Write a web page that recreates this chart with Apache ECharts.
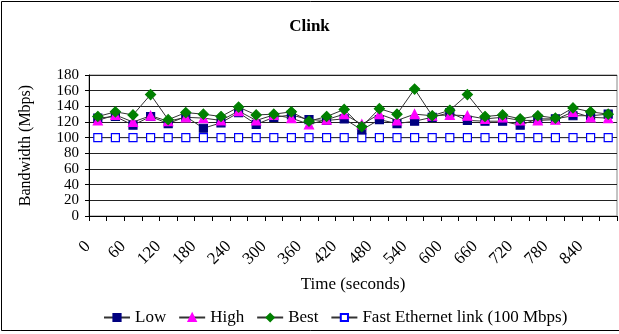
<!DOCTYPE html>
<html>
<head>
<meta charset="utf-8">
<script src="https://cdn.jsdelivr.net/npm/echarts@6/dist/echarts.min.js"></script>
<style>
  html, body { margin: 0; padding: 0; background: #fff; }
  #chart { width: 619px; height: 334px; }
</style>
</head>
<body>
<div id="chart"></div>
<script>
// Time axis categories (seconds)
const categories = ['0','30','60','90','120','150','180','210','240','270','300','330','360','390','420',
  '450','480','510','540','570','600','630','660','690','720','750','780','810','840','870'];

// Bandwidth measurements (Mbps)
const lowValues  = [125,127,116,127,118,127,112,119,132,117,126,129,123,122,124,
                    110,123,118,121,126,132,122,121,121,116,124,124,128,128,130];
const highValues = [122,129,120,128,121,126,125,122,134,122,129,125,117,123,130,
                    117,130,122,130,128,129,128,124,126,122,122,123,133,126,125];
const bestValues = [127,133,129,155,123,132,130,127,139,129,130,133,121,127,136,
                    114,137,130,162,128,135,155,127,129,124,128,125,138,133,130];
const ethernetValues = [100,100,100,100,100,100,100,100,100,100,100,100,100,100,100,
                        100,100,100,100,100,100,100,100,100,100,100,100,100,100,100];

const yTicks = { min: 0, max: 180, step: 20 };

const serif = '"Liberation Serif", "DejaVu Serif", serif';
const lineColor = '#333';

function makeSeries(name, data, symbol, size, color, fill, z) {
  return {
    name: name,
    type: 'line',
    data: data,
    symbol: symbol,
    symbolSize: size,
    showAllSymbol: true,
    z: z,
    lineStyle: { color: lineColor, width: 1 },
    itemStyle: { color: fill, borderColor: color, borderWidth: 1.2 },
    emphasis: { disabled: true },
    animation: false
  };
}

const chart = echarts.init(document.getElementById('chart'), null, { renderer: 'canvas' });
chart.setOption({
  backgroundColor: '#fff',
  animation: false,
  title: {
    text: 'Clink',
    left: 'center',
    top: 13,
    textStyle: { fontFamily: serif, fontSize: 17, fontWeight: 'bold', color: '#000' }
  },
  graphic: [{
    type: 'rect',
    shape: { x: 1.5, y: 1.5, width: 700, height: 329 },
    style: { fill: 'none', stroke: '#000', lineWidth: 1 },
    silent: true
  }],
  legend: {
    bottom: 3,
    left: 98,
    itemWidth: 26,
    itemHeight: 9,
    itemGap: 12,
    textStyle: { fontFamily: serif, fontSize: 17, color: '#000' },
    data: ['Low', 'High', 'Best', 'Fast Ethernet link (100 Mbps)']
  },
  grid: {
    left: 89, right: 2, top: 75, bottom: 118,
    show: true, borderColor: '#888', borderWidth: 1
  },
  xAxis: {
    type: 'category',
    data: categories,
    boundaryGap: true,
    name: 'Time (seconds)',
    nameLocation: 'middle',
    nameGap: 60,
    nameTextStyle: { fontFamily: serif, fontSize: 17, color: '#000' },
    axisLine: { lineStyle: { color: '#000', width: 1 } },
    axisTick: { show: true, interval: 0, length: 5, lineStyle: { color: '#000' } },
    axisLabel: {
      interval: 1,
      rotate: 45,
      margin: 18,
      padding: [0, 14, 0, 0],
      fontFamily: serif, fontSize: 17, color: '#000'
    },
    splitLine: { show: false }
  },
  yAxis: {
    type: 'value',
    min: yTicks.min,
    max: yTicks.max,
    interval: yTicks.step,
    name: 'Bandwidth (Mbps)',
    nameLocation: 'middle',
    nameRotate: 90,
    nameGap: 55,
    nameTextStyle: { fontFamily: serif, fontSize: 16, color: '#000' },
    axisLine: { show: true, lineStyle: { color: '#000', width: 1 } },
    axisTick: { show: true, length: 4, lineStyle: { color: '#000' } },
    axisLabel: {
      margin: 10,
      fontFamily: serif, fontSize: 15, color: '#000'
    },
    splitLine: { show: true, lineStyle: { color: '#222', width: 1 } }
  },
  series: [
    makeSeries('Low', lowValues, 'rect', 8, '#000080', '#000080', 2),
    makeSeries('High', highValues, 'triangle', 9, '#FF00FF', '#FF00FF', 3),
    makeSeries('Best', bestValues, 'diamond', 10, '#008000', '#008000', 4),
    makeSeries('Fast Ethernet link (100 Mbps)', ethernetValues, 'rect', 8, '#0000FF', '#FFFFFF', 1)
  ]
});
</script>
</body>
</html>
